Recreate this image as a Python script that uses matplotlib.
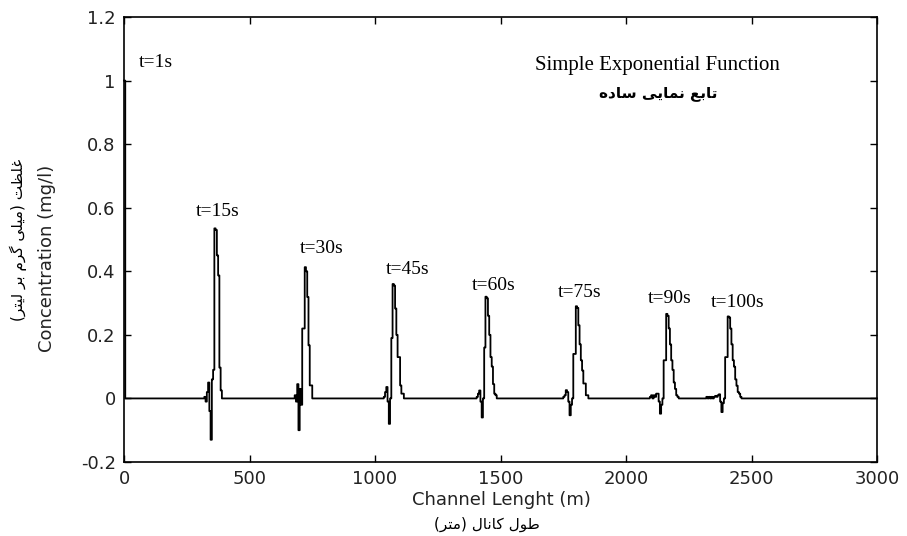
import numpy as np
import matplotlib
matplotlib.use("Agg")
from matplotlib import pyplot as plt

# ---- data ----
dx = 5                      # m, spacing of the stored samples
channel_end = 3000          # m

times = ["t=1s", "t=15s", "t=30s", "t=45s", "t=60s", "t=75s", "t=90s", "t=100s"]
pulse_start = [0, 320, 680, 1035, 1405, 1750, 2095, 2320]   # m, first stored sample
pulse_t1 = [1.0, 0.0]
pulse_t15 = [0.005, -0.01, 0.02, 0.05, -0.04, -0.13, 0.06, 0.09, 0.535, 0.53, 0.45,
             0.387, 0.097, 0.025, 0.0]
pulse_t30 = [0.01, -0.01, 0.045, -0.10, 0.03, -0.02, 0.22, 0.22, 0.413, 0.40, 0.319,
             0.167, 0.041, 0.041, 0.0]
pulse_t45 = [0.005, 0.02, 0.036, -0.01, -0.08, 0.0, 0.19, 0.36, 0.355, 0.283, 0.2,
             0.13, 0.13, 0.041, 0.015, 0.015, 0.0]
pulse_t60 = [0.005, 0.015, 0.025, -0.01, -0.06, 0.0, 0.16, 0.32, 0.315, 0.26, 0.2,
             0.13, 0.1, 0.045, 0.015, 0.01, 0.0]
pulse_t75 = [0.005, 0.01, 0.026, 0.02, -0.01, -0.053, -0.02, 0.0, 0.14, 0.14, 0.29,
             0.285, 0.23, 0.17, 0.12, 0.088, 0.047, 0.047, 0.01, 0.01, 0.0]
pulse_t90 = [0.005, 0.01, 0.0, 0.01, 0.005, 0.015, 0.015, -0.01, -0.048, -0.02, 0.0,
             0.12, 0.12, 0.266, 0.26, 0.22, 0.17, 0.12, 0.09, 0.05, 0.03, 0.01, 0.005, 0.0]
pulse_t100 = [0.005, 0.0, 0.005, 0.0, 0.005, 0.0, 0.005, 0.008, 0.005, 0.01, 0.013,
              -0.01, -0.043, -0.015, 0.0, 0.13, 0.13, 0.258, 0.255, 0.22, 0.17, 0.12,
              0.1, 0.06, 0.04, 0.02, 0.015, 0.005, 0.0]
pulses = [pulse_t1, pulse_t15, pulse_t30, pulse_t45, pulse_t60, pulse_t75, pulse_t90, pulse_t100]

# label anchors (left edge x in m, centre y in mg/l)
label_x = [60, 287, 701, 1044, 1386, 1729, 2088, 2339]
label_y = [1.057, 0.588, 0.472, 0.406, 0.355, 0.333, 0.314, 0.302]

xticks = [0, 500, 1000, 1500, 2000, 2500, 3000]
yticks = [-0.2, 0, 0.2, 0.4, 0.6, 0.8, 1, 1.2]
ytick_labels = ["-0.2", "0", "0.2", "0.4", "0.6", "0.8", "1", "1.2"]

title_en = "Simple Exponential Function"
title_fa = "تابع نمایی ساده"
xlabel_en = "Channel Lenght (m)"
xlabel_fa = "طول کانال (متر)"
ylabel_en = "Concentration (mg/l)"
ylabel_fa = "غلظت (میلی گرم بر لیتر)"

# matplotlib does no arabic shaping, so pick the presentation forms by hand
# isolated, final, initial, medial
FORMS = {
    'ا': ('\ufe8d', '\ufe8e', None, None),
    'ب': ('\ufe8f', '\ufe90', '\ufe91', '\ufe92'),
    'ت': ('\ufe95', '\ufe96', '\ufe97', '\ufe98'),
    'د': ('\ufea9', '\ufeaa', None, None),
    'ر': ('\ufead', '\ufeae', None, None),
    'س': ('\ufeb1', '\ufeb2', '\ufeb3', '\ufeb4'),
    'ط': ('\ufec1', '\ufec2', '\ufec3', '\ufec4'),
    'ظ': ('\ufec5', '\ufec6', '\ufec7', '\ufec8'),
    'ع': ('\ufec9', '\ufeca', '\ufecb', '\ufecc'),
    'غ': ('\ufecd', '\ufece', '\ufecf', '\ufed0'),
    'ل': ('\ufedd', '\ufede', '\ufedf', '\ufee0'),
    'م': ('\ufee1', '\ufee2', '\ufee3', '\ufee4'),
    'ن': ('\ufee5', '\ufee6', '\ufee7', '\ufee8'),
    'ه': ('\ufee9', '\ufeea', '\ufeeb', '\ufeec'),
    'و': ('\ufeed', '\ufeee', None, None),
    'ی': ('\ufbfc', '\ufbfd', '\ufbfe', '\ufbff'),
    'ک': ('\ufb8e', '\ufb8f', '\ufb90', '\ufb91'),
    'گ': ('\ufb92', '\ufb93', '\ufb94', '\ufb95'),
}


def farsi(text):
    out = []
    for i, ch in enumerate(text):
        f = FORMS.get(ch)
        if f is None:
            out.append(ch)
            continue
        prev = text[i - 1] if i > 0 else ''
        nxt = text[i + 1] if i + 1 < len(text) else ''
        join_prev = prev in FORMS and FORMS[prev][2] is not None
        join_next = f[2] is not None and nxt in FORMS
        if join_prev and join_next:
            out.append(f[3])
        elif join_prev:
            out.append(f[1])
        elif join_next:
            out.append(f[2])
        else:
            out.append(f[0])
    mirror = {'(': ')', ')': '('}
    return ''.join(mirror.get(c, c) for c in reversed(out))


x = np.arange(0, channel_end + dx, dx)
# the pulses never overlap, so all times go into one profile along the channel
conc = np.zeros(len(x))
for start, vals in zip(pulse_start, pulses):
    i0 = start // dx
    conc[i0:i0 + len(vals)] = vals

fig = plt.figure(figsize=(9.07, 5.36), dpi=100)
ax = fig.add_axes([124 / 907, 74 / 536, 753 / 907, 445 / 536])

ax.plot(x, conc, color="black", lw=1.3, drawstyle="steps-post", clip_on=False)

for name, lx, ly in zip(times, label_x, label_y):
    ax.text(lx, ly, name, ha="left", va="center", family="Liberation Serif", fontsize=14)

ax.text(2127, 1.047, title_en, ha="center", va="center", family="Liberation Serif", fontsize=15)
ax.text(2127, 0.959, farsi(title_fa), ha="center", va="center", family="DejaVu Sans",
        fontsize=11, fontweight="bold")

ax.set_xlim(0, channel_end)
ax.set_ylim(-0.2, 1.2)
ax.set_xticks(xticks)
ax.set_yticks(yticks)
ax.set_yticklabels(ytick_labels)
ax.tick_params(direction="in", top=True, right=True, length=5, width=1,
               labelsize=13, pad=6)
for lab in ax.get_xticklabels() + ax.get_yticklabels():
    lab.set_family("DejaVu Sans")
    lab.set_color("#222222")
for s in ax.spines.values():
    s.set_linewidth(1.2)

fig.text(501 / 907, 1 - 500 / 536, xlabel_en, ha="center", va="center",
         family="DejaVu Sans", fontsize=13, color="#222222")
fig.text(487 / 907, 1 - 524 / 536, farsi(xlabel_fa), ha="center", va="center",
         family="DejaVu Sans", fontsize=11)
fig.text(47 / 907, 1 - 258 / 536, ylabel_en, ha="center", va="center", rotation=90,
         family="DejaVu Sans", fontsize=13, color="#222222")
fig.text(18 / 907, 1 - 240 / 536, farsi(ylabel_fa), ha="center", va="center", rotation=90,
         family="DejaVu Sans", fontsize=11)

fig.savefig("out.png", dpi=100)
